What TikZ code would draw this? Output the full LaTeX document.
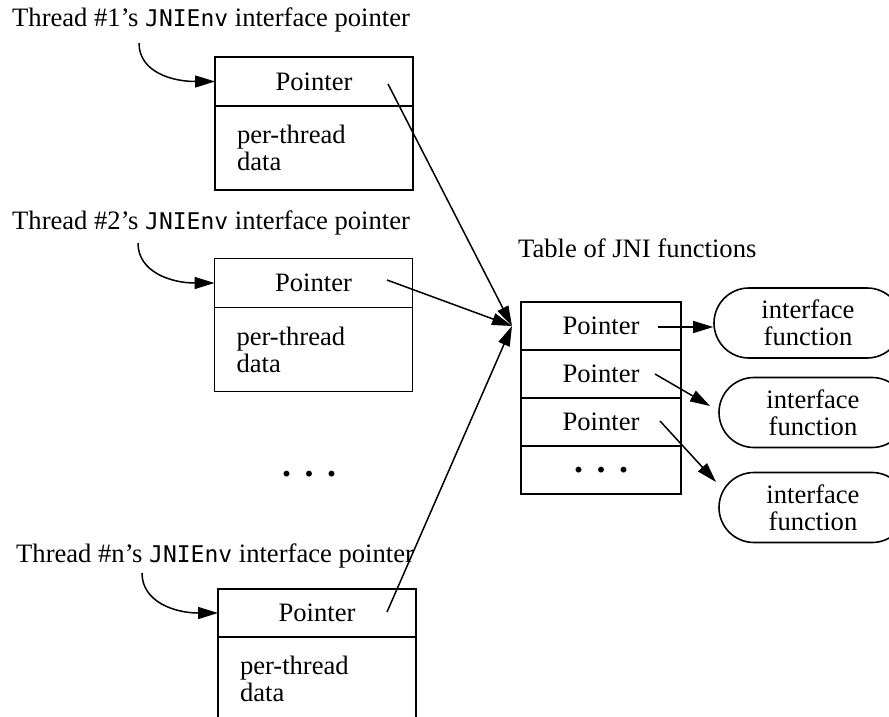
\documentclass[tikz,border=0pt]{standalone}
\usepackage{fontspec}
\setmainfont{Liberation Serif}
\newfontfamily\jnifont{DejaVu Sans Mono}
\usetikzlibrary{arrows.meta,positioning,shapes.misc}
\newcommand{\jnienv}{{\fontsize{23}{27}\selectfont\jnifont JNIEnv}}
\newcommand{\threedots}{{\fontsize{36}{36}\selectfont\bfseries .\hspace{13.5pt}.\hspace{13.5pt}.}}

\tikzset{
  ptrcell/.style={draw, line width=1.6pt, minimum width=198pt, minimum height=49pt, inner sep=0pt, outer sep=0pt},
  datacell/.style={draw, line width=1.6pt, minimum width=198pt, minimum height=84pt, text width=154pt, inner xsep=22pt, inner ysep=0pt, outer sep=0pt, align=left},
  tabcell/.style={draw, line width=1.6pt, minimum width=160pt, minimum height=48pt, inner sep=0pt, outer sep=0pt},
  funcnode/.style={draw, rounded rectangle, line width=1.6pt, minimum width=188pt, minimum height=70pt, inner sep=0pt, align=center},
  ptrarrow/.style={line width=1.5pt, -{Triangle[length=20pt,width=12pt]}},
  threadlabel/.style={anchor=base west, inner sep=0pt}
}

\begin{document}
\begin{tikzpicture}[x=1pt, y=-1pt, font=\fontsize{26.6}{27}\selectfont]
    \clip (0,0) rectangle (889,717);
    %%Thread 1
    \node[threadlabel] (lab1) at (12,27) {Thread \#1's \jnienv{} interface pointer};
    \node[ptrcell] (p1) at (314,81.5) {Pointer};
    \node[datacell, below=0pt of p1] (d1) {per-thread\\data};
    \coordinate (c1) at (139,43);
    \coordinate (p1out) at (388,84);
    %%Thread 2
    \node[threadlabel] (lab2) at (12,229) {Thread \#2's \jnienv{} interface pointer};
    \node[ptrcell] (p2) at (313.5,283) {Pointer};
    \node[datacell, below=0pt of p2] (d2) {per-thread\\data};
    \coordinate (c2) at (138,243);
    \coordinate (p2out) at (387,280);
    \node[anchor=base, inner sep=0pt] (moredots) at (309,476) {\threedots};
    %%Thread n
    \node[threadlabel] (labn) at (16,562) {Thread \#n's \jnienv{} interface pointer};
    \node[ptrcell, minimum height=48pt] (pn) at (317,613) {Pointer};
    \node[datacell, below=0pt of pn] (dn) {per-thread\\data};
    \coordinate (cn) at (142,573);
    \coordinate (pnout) at (387,612);
    %%Table of JNI functions
    \node[anchor=base west, inner sep=0pt] (tabtitle) at (518,257) {Table of JNI functions};
    \node[tabcell] (t1) at (601,326) {Pointer};
    \node[tabcell, below=0pt of t1] (t2) {Pointer};
    \node[tabcell, below=0pt of t2] (t3) {Pointer};
    \node[tabcell, below=0pt of t3] (t4) {\threedots};
    \coordinate (tabin) at (512,326);
    %%Interface functions
    \node[funcnode] (f1) at (808,323) {interface\\function};
    \node[funcnode] (f2) at (813,412.5) {interface\\function};
    \node[funcnode] (f3) at (813,507.5) {interface\\function};
    \coordinate (t1out) at (658,327);
    \coordinate (t2out) at (655,374);
    \coordinate (t3out) at (660,421);
    \coordinate (f2in) at (710,406);
    \coordinate (f3in) at (716,482);
    %%Arrows
    \draw[ptrarrow] (c1) .. controls (139,72) and (172,81.5) .. (p1.west);
    \draw[ptrarrow] (c2) .. controls (138,272) and (171,283) .. (p2.west);
    \draw[ptrarrow] (cn) .. controls (142,602) and (175,613) .. (pn.west);
    \draw[ptrarrow] (p1out) -- (tabin);
    \draw[ptrarrow] (p2out) -- (tabin);
    \draw[ptrarrow] (pnout) -- (tabin);
    \draw[ptrarrow] (t1out) -- (t1out -| f1.west);
    \draw[ptrarrow] (t2out) -- (f2in);
    \draw[ptrarrow] (t3out) -- (f3in);
\end{tikzpicture}
\end{document}
